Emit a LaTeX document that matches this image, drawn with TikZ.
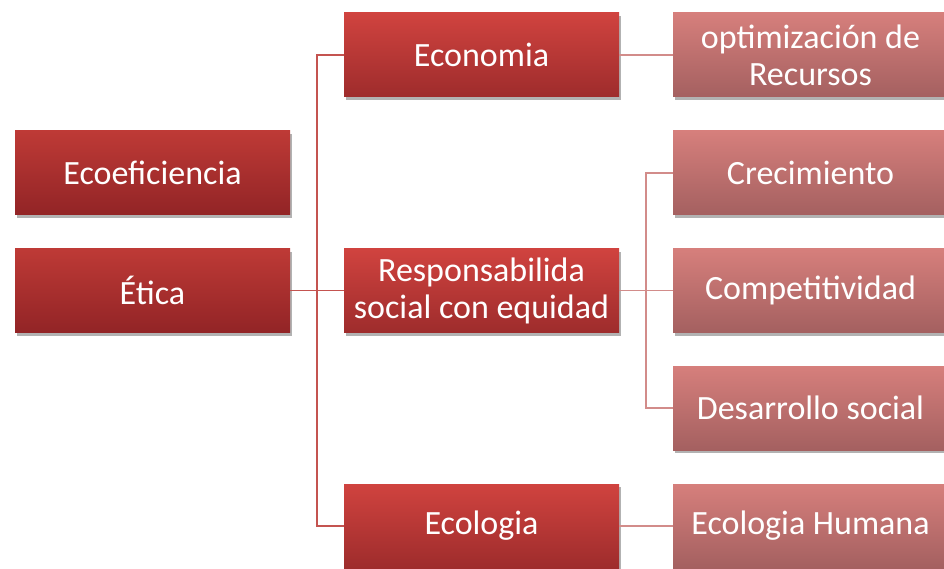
\documentclass[tikz,border=0pt]{standalone}
\usepackage{fontspec}
\setmainfont{Carlito}
\usetikzlibrary{shadows}
\definecolor{lefttop}{RGB}{190,58,54}
\definecolor{leftbot}{RGB}{146,36,38}
\definecolor{midtop}{RGB}{208,67,63}
\definecolor{midbot}{RGB}{158,44,44}
\definecolor{righttop}{RGB}{214,127,124}
\definecolor{rightbot}{RGB}{164,96,96}
\definecolor{linkdark}{RGB}{196,84,80}
\definecolor{linklight}{RGB}{210,140,138}
\tikzset{
  box/.style={rectangle, minimum width=275pt, minimum height=84pt, inner sep=0pt,
    text=white, align=center, font=\fontsize{34}{37}\selectfont,
    drop shadow={shadow xshift=2pt, shadow yshift=-3pt, opacity=0.3, fill=black}},
  leftbox/.style={box, top color=lefttop, bottom color=leftbot},
  midbox/.style={box, top color=midtop, bottom color=midbot},
  rightbox/.style={box, top color=righttop, bottom color=rightbot},
  linkA/.style={draw=linkdark, line width=1.6pt},
  linkB/.style={draw=linklight, line width=1.6pt}
}
\begin{document}
\begin{tikzpicture}[x=1pt,y=-1pt]
\useasboundingbox (0,0) rectangle (944,569);
\begin{scope}
\clip (0,0) rectangle (944,569);
\coordinate (j1) at (317,290.5);
\coordinate (j2) at (646,290.5);
% nodes
\node[leftbox] (ecoef) at (152.5,173) {Ecoeficiencia};
\node[leftbox] (etica) at (152.5,290.5) {Ética};
\node[midbox] (econ) at (481.5,55) {Economia};
\node[midbox] (resp) at (481.5,290.5) {Responsabilida\\social con equidad};
\node[midbox] (ecol) at (481.5,526) {Ecologia};
\node[rightbox] (optim) at (810.5,55) {optimización de\\Recursos};
\node[rightbox] (crec) at (810.5,173) {Crecimiento};
\node[rightbox] (comp) at (810.5,290.5) {Competitividad};
\node[rightbox] (desa) at (810.5,408) {Desarrollo social};
\node[rightbox] (ecoh) at (810.5,526) {Ecologia Humana};
% connectors
\draw[linkA] (etica.east) -- (j1);
\draw[linkA] (j1) |- (econ.west);
\draw[linkA] (j1) -- (resp.west);
\draw[linkA] (j1) |- (ecol.west);
\draw[linkB] (econ.east) -- (optim.west);
\draw[linkB] (resp.east) -- (j2);
\draw[linkB] (j2) |- (crec.west);
\draw[linkB] (j2) -- (comp.west);
\draw[linkB] (j2) |- (desa.west);
\draw[linkB] (ecol.east) -- (ecoh.west);
\end{scope}
\end{tikzpicture}
\end{document}
